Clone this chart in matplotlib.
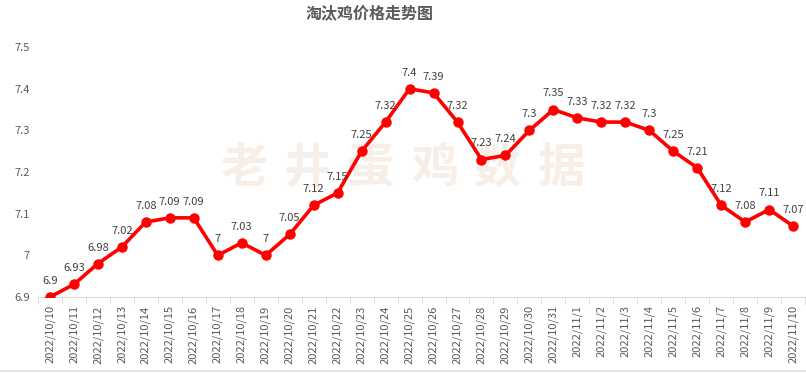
import matplotlib
matplotlib.use("Agg")
import matplotlib.pyplot as plt
from matplotlib.lines import Line2D

plt.rcParams['font.family'] = ['Noto Sans CJK SC', 'DejaVu Sans']

# Data
dates = ['2022/10/10', '2022/10/11', '2022/10/12', '2022/10/13', '2022/10/14',
         '2022/10/15', '2022/10/16', '2022/10/17', '2022/10/18', '2022/10/19',
         '2022/10/20', '2022/10/21', '2022/10/22', '2022/10/23', '2022/10/24',
         '2022/10/25', '2022/10/26', '2022/10/27', '2022/10/28', '2022/10/29',
         '2022/10/30', '2022/10/31', '2022/11/1', '2022/11/2', '2022/11/3',
         '2022/11/4', '2022/11/5', '2022/11/6', '2022/11/7', '2022/11/8',
         '2022/11/9', '2022/11/10']
prices = [6.9, 6.93, 6.98, 7.02, 7.08, 7.09, 7.09, 7, 7.03, 7,
          7.05, 7.12, 7.15, 7.25, 7.32, 7.4, 7.39, 7.32, 7.23, 7.24,
          7.3, 7.35, 7.33, 7.32, 7.32, 7.3, 7.25, 7.21, 7.12, 7.08,
          7.11, 7.07]
y_ticks = [6.9, 7.0, 7.1, 7.2, 7.3, 7.4, 7.5]
y_tick_labels = ['6.9', '7', '7.1', '7.2', '7.3', '7.4', '7.5']
watermark = '老井蛋鸡数据'

def fmt(v):
    return f'{v:.2f}'.rstrip('0').rstrip('.')

fig = plt.figure(figsize=(8.06, 3.74), dpi=100)
ax = fig.add_axes([0.047, 0.206, 0.952, 0.668])

x = list(range(len(dates)))

# watermark behind everything in the axes, one character at a time
for i, ch in enumerate(watermark):
    ax.text(0.302 + i * 0.079, 0.55, ch, fontsize=34, fontweight='bold',
            color='#f8eee8', ha='center', va='center', style='italic',
            transform=fig.transFigure, zorder=0.5)

ax.plot(x, prices, color='#ff0000', lw=2.6, marker='o', markersize=6.5, zorder=3)
for xi, v in zip(x, prices):
    ax.annotate(fmt(v), (xi, v), xytext=(0, 8), textcoords='offset points',
                ha='center', va='bottom', fontsize=8, color='#404040', zorder=4)

ax.set_xlim(-0.5, len(dates) - 0.5)
ax.set_ylim(6.9, 7.5)
ax.set_yticks(y_ticks)
ax.set_yticklabels(y_tick_labels)
ax.set_xticks(x)
ax.set_xticklabels(dates, rotation=90)
ax.tick_params(axis='x', length=0, pad=6, labelsize=8, labelcolor='#595959')
ax.tick_params(axis='y', length=0, pad=6, labelsize=8, labelcolor='#595959')

# category boundary tick marks
ax.set_xticks([i - 0.5 for i in range(len(dates) + 1)], minor=True)
ax.tick_params(axis='x', which='minor', length=5, color='#d9d9d9', direction='out')

for s in ['top', 'right', 'left']:
    ax.spines[s].set_visible(False)
ax.spines['bottom'].set_color('#d9d9d9')
ax.patch.set_alpha(0)

# title
fig.text(0.458, 0.966, '淘汰鸡价格走势图', fontsize=11.5, fontweight='bold',
         color='#595959', ha='center', va='center')

# faint line at bottom edge
fig.add_artist(Line2D([0, 1], [0.008, 0.008], color='#e0e0e0', lw=1.2,
                      transform=fig.transFigure))

fig.savefig('out.png', dpi=100)
